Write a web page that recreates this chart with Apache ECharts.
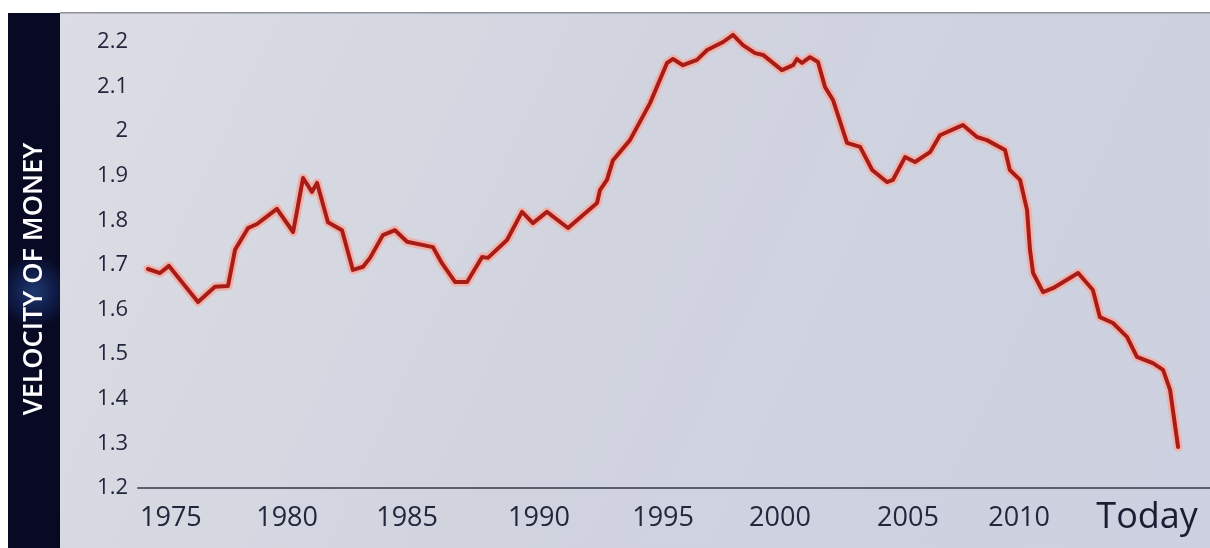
<!DOCTYPE html>
<html>
<head>
<meta charset="utf-8">
<script src="https://cdn.jsdelivr.net/npm/echarts@6/dist/echarts.min.js"></script>
<style>
  html, body { margin: 0; padding: 0; background: #ffffff; }
  #chart { width: 1210px; height: 548px; }
</style>
</head>
<body>
<div id="chart"></div>
<script>
// ---- data ----
const years = [1974.01,1974.51,1974.88,1976.08,1976.78,1977.32,1977.61,1978.15,1978.52,1979.34,
  1980.01,1980.42,1980.79,1981.00,1981.45,1982.03,1982.48,1982.90,1983.19,1983.72,
  1984.22,1984.72,1985.79,1986.16,1986.70,1987.20,1987.82,1988.06,1988.85,1989.47,
  1989.92,1990.50,1991.37,1992.57,1992.69,1992.98,1993.23,1993.93,1994.76,1995.46,
  1995.71,1996.12,1996.70,1997.12,1997.78,1998.19,1998.60,1999.10,1999.43,2000.21,
  2000.67,2000.83,2001.04,2001.37,2001.70,2001.99,2002.32,2002.90,2003.44,2003.94,
  2004.55,2004.80,2005.30,2005.71,2006.33,2006.74,2007.49,2007.69,2008.27,2008.68,
  2009.43,2009.63,2010.05,2010.34,2010.46,2010.59,2011.00,2011.41,2012.45,2013.06,
  2013.35,2013.89,2014.47,2014.88,2015.54,2015.96,2016.25,2016.58];
const velocity = [1.691,1.682,1.698,1.617,1.651,1.653,1.734,1.783,1.792,1.826,
  1.774,1.895,1.864,1.884,1.796,1.778,1.689,1.696,1.716,1.767,
  1.778,1.752,1.740,1.704,1.662,1.662,1.718,1.716,1.756,1.819,
  1.794,1.819,1.783,1.839,1.868,1.891,1.935,1.980,2.063,2.153,
  2.162,2.148,2.160,2.182,2.200,2.216,2.193,2.175,2.171,2.137,
  2.148,2.162,2.153,2.166,2.155,2.099,2.070,1.974,1.965,1.913,
  1.886,1.891,1.942,1.931,1.953,1.991,2.009,2.014,1.987,1.980,
  1.958,1.913,1.891,1.823,1.734,1.682,1.639,1.648,1.682,1.644,
  1.583,1.570,1.539,1.494,1.480,1.465,1.420,1.292];
// x tick label positions (as placed in the picture) and their texts
const tickYears = [1974.96, 1979.76, 1984.72, 1990.17, 1995.30, 2000.13, 2005.42, 2010.01, 2015.30];
const tickLabels = ['1975', '1980', '1985', '1990', '1995', '2000', '2005', '2010', 'Today'];
const yMin = 1.2, yMax = 2.2, yStep = 0.1;
const yTitle = 'VELOCITY OF MONEY';

const seriesData = years.map((y, i) => [y, velocity[i]]);

const chart = echarts.init(document.getElementById('chart'), null, { renderer: 'canvas' });
const FONT = '"Open Sans", "Noto Sans", sans-serif';
const TEXT = '#23273d';

chart.setOption({
  backgroundColor: '#ffffff',
  animation: false,
  graphic: [
    { type: 'rect', z: -10, silent: true,
      shape: { x: 60, y: 13, width: 1150, height: 535 },
      style: { fill: new echarts.graphic.LinearGradient(0, 0, 1, 1, [
        { offset: 0, color: '#dcdde4' },
        { offset: 0.45, color: '#d1d4df' },
        { offset: 1, color: '#ccd0e0' }
      ]) } },
    { type: 'rect', z: -9, silent: true,
      shape: { x: 60, y: 12, width: 1150, height: 1.5 },
      style: { fill: '#8e909c' } },
    { type: 'rect', z: -10, silent: true,
      shape: { x: 8, y: 13, width: 52, height: 535 },
      style: { fill: new echarts.graphic.RadialGradient(0.5, 0.52, 0.7, [
        { offset: 0, color: '#1f3a70' },
        { offset: 0.55, color: '#101c48' },
        { offset: 1, color: '#080a24' }
      ]) } },
    { type: 'text', z: 10, silent: true,
      x: 34, y: 279, rotation: Math.PI / 2,
      style: { text: yTitle, fill: '#ffffff', font: '600 27px ' + FONT,
        align: 'center', verticalAlign: 'middle' } }
  ],
  grid: { left: 138, right: 0, top: 42, bottom: 60, containLabel: false },
  xAxis: {
    type: 'value',
    min: 1973.6,
    max: 2017.9,
    axisLine: { show: true, lineStyle: { color: '#5b5f6e', width: 2 } },
    axisTick: { show: false },
    splitLine: { show: false },
    axisLabel: {
      customValues: tickYears,
      showMinLabel: true, showMaxLabel: true,
      margin: 30,
      verticalAlign: 'middle',
      color: TEXT,
      fontFamily: FONT,
      fontSize: 27,
      formatter: function (v) {
        let best = 0, d = Infinity;
        tickYears.forEach((t, i) => { const dd = Math.abs(t - v); if (dd < d) { d = dd; best = i; } });
        const s = tickLabels[best];
        return s === 'Today' ? '{big|' + s + '}' : s;
      },
      rich: { big: { fontSize: 36, color: '#1a1e33', fontFamily: FONT, verticalAlign: 'middle' } }
    }
  },
  yAxis: {
    type: 'value',
    min: yMin,
    max: yMax,
    interval: yStep,
    axisLine: { show: false },
    axisTick: { show: false },
    splitLine: { show: false },
    axisLabel: {
      margin: 10,
      color: TEXT,
      fontFamily: FONT,
      fontSize: 22,
      formatter: v => String(+v.toFixed(1))
    }
  },
  series: [
    { type: 'line', data: seriesData, symbol: 'none', silent: true, z: 2, clip: false,
      lineStyle: { color: '#efb2aa', width: 9, join: 'round', cap: 'round' } },
    { type: 'line', data: seriesData, symbol: 'none', silent: true, z: 3, clip: false,
      lineStyle: { color: '#a81c18', width: 4, join: 'round', cap: 'round' } }
  ]
});
</script>
</body>
</html>
